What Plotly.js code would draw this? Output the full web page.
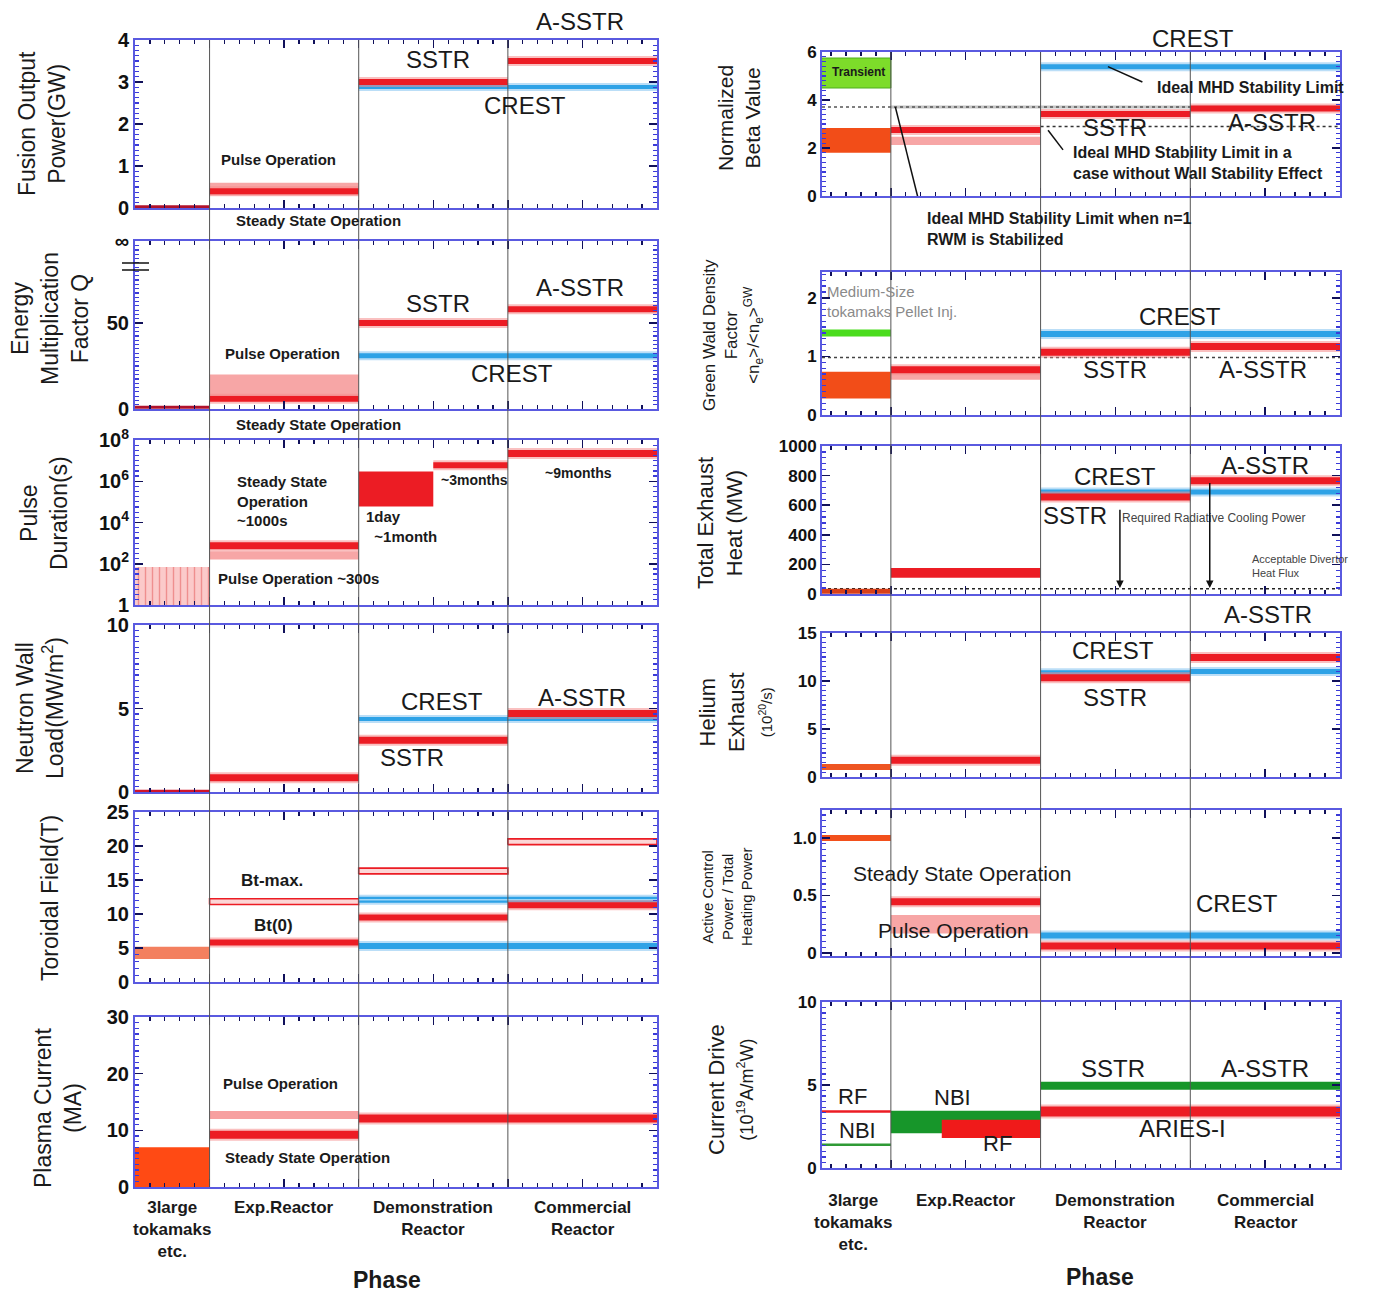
<!DOCTYPE html>
<html><head><meta charset="utf-8">
<script src="https://cdn.plot.ly/plotly-3.0.1.min.js"></script>
<style>html,body{margin:0;padding:0;background:#fff}</style>
</head><body><div id="chart" style="width:1374px;height:1292px"></div>
<script>
// ================= DATA =================
const PHASES = ['3large<br>tokamaks<br>etc.', 'Exp.Reactor', 'Demonstration<br>Reactor', 'Commercial<br>Reactor'];
const PHASE_EDGES = [0.5, 1, 2, 3, 4];   // phase boundaries on the phase axis

// Fusion output power (GW)   [number = level, [lo,hi] = range]
const fusionExisting = [0.03, null, null, null];
const fusionSSTR     = [null, 0.4, 3.0, 3.5];
const fusionPulse    = [null, [0.3, 0.6], null, null];
const fusionCREST    = [null, null, 2.88, 2.88];

// Energy multiplication factor Q
const qExisting = [1, null, null, null];
const qSSTR     = [null, 6, 50, 58];
const qPulse    = [null, [8, 20], null, null];
const qCREST    = [null, null, 31, 31];
const qInfinity = 97.7;

// Pulse duration (s)
const durExisting = [[1, 70], null, null, null];
const durSSTR     = [null, 750, null, 2.2e7];
const durPulse    = [null, [160, 400], null, null];
const durDemoDay  = [6e4, 3e6];   // 1 day ~ 1 month (first half of Demo phase)
const durDemo3mo  = 6e6;          // ~3 months (second half of Demo phase)

// Neutron wall load (MW/m2)
const nwlExisting = [0.05, null, null, null];
const nwlSSTR     = [null, 0.85, 3.1, 4.7];
const nwlCREST    = [null, null, 4.37, 4.37];

// Toroidal field (T)
const btExisting  = [[3.4, 5.2], null, null, null];
const btMax       = [null, [11.4, 12.25], [15.9, 16.75], [20.2, 21.05]];
const bt0         = [null, 5.8, 9.5, 11.3];
const btCRESTmax  = [null, null, 12.1, 12.1];
const btCREST0    = [null, null, 5.3, 5.3];

// Plasma current (MA)
const ipExisting = [[0, 7], null, null, null];
const ipPulse    = [null, 12.7, null, null];
const ipSSTR     = [null, 9.2, 12.1, 12.1];

// Normalized beta
const betaTransient = [[4.5, 5.75], null, null, null];
const betaExisting  = [[1.8, 2.83], null, null, null];
const betaSSTR      = [null, 2.75, 3.42, 3.65];
const betaPulse     = [null, [2.13, 2.47], null, null];
const betaCREST     = [null, null, 5.39, 5.39];
const betaRWMLimit  = [3.71, 3.71, 3.71, 3.71];
const betaNoWall    = [null, null, 2.9, 2.9];

// Greenwald density factor
const gwPellet   = [1.4, null, null, null];
const gwExisting = [[0.28, 0.74], null, null, null];
const gwSSTR     = [null, 0.77, 1.07, 1.17];
const gwPulse    = [null, [0.6, 0.72], null, null];
const gwCREST    = [null, null, 1.38, 1.38];
const gwLimit    = [0.98, 0.98, 0.98, 0.98];

// Total exhaust heat (MW)
const heatExisting = [18, null, null, null];
const heatSSTR     = [null, [110, 175], 655, 765];
const heatCREST    = [null, null, 690, 690];
const heatDivertor = [35, 35, 35, 35];
const heatRadiative = [580, 760];     // arrows: from these levels down to divertor level

// Helium exhaust (10^20/s)
const heExisting = [1.05, null, null, null];
const heSSTR     = [null, 1.75, 10.35, 12.45];
const heCREST    = [null, null, 10.85, 11.0];

// Active control power / total heating power
const acExisting = [1.0, null, null, null];
const acSSTR     = [null, 0.445, 0.06, 0.06];
const acPulse    = [null, [0.17, 0.33], null, null];
const acCREST    = [null, null, 0.152, 0.152];

// Current drive efficiency (10^19 A/m^2W)
const cdRF3large  = [3.4, null, null, null];
const cdNBI3large = [1.4, null, null, null];
const cdNBIExp    = [null, [2.1, 3.45], null, null];
const cdRFExp     = [1.8, 2.9];       // RF range in Exp. phase (latter part)
const cdSSTR      = [null, null, 4.95, 4.95];
const cdARIES     = [null, null, 3.4, 3.4];

// ================= STYLE / LAYOUT =================
const W = 1374, H = 1292;
const fx = p => p / W, fy = p => 1 - p / H;
const FONT = 'Liberation Sans, Arial, Helvetica, sans-serif';
const RED = '#ec1c24', PINK = '#f7a6a6', BLUE = '#2ea2e6', ORANGE = '#ff4a14',
      SALMON = '#f3805f', DARKRED = '#b0122c', GREEN = '#4bdc1e', DKGREEN = '#17962a',
      FRAME = '#5a5ae0', TICKDARK = '#10105a';

const LEFT_X = [135, 657], RIGHT_X = [822, 1340];
const LEFT_Y = [[40, 208], [241, 409], [440, 605], [625, 792], [812, 982], [1017, 1187]];
const RIGHT_Y = [[52, 196], [272, 415], [446, 594], [633, 777], [810, 956], [1002, 1168]];

const yCfg = {
  1: {range: [0, 4], vals: [0, 1, 2, 3, 4], minor: 0.125},
  2: {range: [0, qInfinity], vals: [0, 50, qInfinity], text: ['0', '50', '∞'], minor: 2.5},
  3: {type: 'log', range: [0, 8], vals: [1, 1e2, 1e4, 1e6, 1e8],
      text: ['1', '10<sup>2</sup>', '10<sup>4</sup>', '10<sup>6</sup>', '10<sup>8</sup>']},
  4: {range: [0, 10], vals: [0, 5, 10], minor: 1 / 3},
  5: {range: [0, 25], vals: [0, 5, 10, 15, 20, 25], minor: 1},
  6: {range: [0, 30], vals: [0, 10, 20, 30], minor: 1},
  7: {range: [0, 6], vals: [0, 2, 4, 6], minor: 0.2},
  8: {range: [0, 2.44], vals: [0, 1, 2], minor: 0.1},
  9: {range: [0, 1000], vals: [0, 200, 400, 600, 800, 1000], minor: 40},
  10: {range: [0, 15], vals: [0, 5, 10, 15], minor: 0.5},
  11: {range: [-0.026, 1.243], vals: [0, 0.5, 1.0], text: ['0', '0.5', '1.0'], minor: 0.05},
  12: {range: [0, 10], vals: [0, 5, 10], minor: 1 / 3},
};

const sfx = i => (i === 1 ? '' : String(i));
const layout = {
  width: W, height: H, margin: {l: 0, r: 0, t: 0, b: 0},
  paper_bgcolor: '#fff', plot_bgcolor: 'rgba(0,0,0,0)', showlegend: false,
  font: {family: FONT, color: '#111'}, shapes: [], annotations: []
};

for (let i = 1; i <= 12; i++) {
  const left = i <= 6;
  const xp = left ? LEFT_X : RIGHT_X;
  const yp = left ? LEFT_Y[i - 1] : RIGHT_Y[i - 7];
  layout['xaxis' + sfx(i)] = {
    domain: [fx(xp[0]), fx(xp[1])], anchor: 'y' + sfx(i),
    range: left ? [0.5, 4] : [0.54, 4],
    showline: true, linecolor: FRAME, linewidth: 2, mirror: 'allticks',
    ticks: 'inside', ticklen: 8, tickwidth: 1.5, tickcolor: TICKDARK,
    tickmode: 'linear', tick0: 0.5, dtick: 0.5, showticklabels: false,
    showgrid: false, zeroline: false, fixedrange: true,
    minor: {ticks: 'inside', ticklen: 4, tickwidth: 1.2, tickcolor: TICKDARK, tickmode: 'linear', tick0: 0.5, dtick: 0.1, showgrid: false}
  };
  const c = yCfg[i];
  const ya = {
    domain: [fy(yp[1]), fy(yp[0])], anchor: 'x' + sfx(i),
    type: c.type || 'linear', range: c.range,
    showline: true, linecolor: FRAME, linewidth: 2, mirror: 'allticks',
    ticks: 'inside', ticklen: 8, tickwidth: 1.5, tickcolor: TICKDARK,
    tickmode: 'array', tickvals: c.vals, ticktext: c.text || c.vals.map(String),
    tickfont: {family: FONT, size: left ? 20 : 17, color: '#111', weight: 'bold'},
    showgrid: false, zeroline: false, fixedrange: true,
    minor: {ticks: 'inside', ticklen: 4, tickwidth: 1.2, tickcolor: '#3a3ad8', showgrid: false}
  };
  if (c.type === 'log') {
    const mv = [];
    for (let k = 0; k <= 32; k++) mv.push(Math.pow(10, k / 4));
    ya.minor.tickmode = 'array'; ya.minor.tickvals = mv;
  } else {
    ya.minor.tickmode = 'linear'; ya.minor.tick0 = 0; ya.minor.dtick = c.minor;
  }
  layout['yaxis' + sfx(i)] = ya;
}

// ================= TRACES =================
const traces = [];
const E = PHASE_EDGES;
function segsOf(vals, wantRange) {
  const out = [];
  vals.forEach((v, i) => {
    if (v === null || v === undefined) return;
    if (Array.isArray(v) === wantRange) out.push([E[i], E[i + 1], v]);
  });
  return out;
}
function lineTrace(segs, ax, color, width, dash) {
  const x = [], y = [];
  let last = null;
  segs.forEach(s => {
    if (last && last[1] === s[0] && last[2] === s[2]) { x[x.length - 2] = s[1]; last = [last[0], s[1], s[2]]; return; }
    x.push(s[0], s[1], null); y.push(s[2], s[2], null); last = s;
  });
  traces.push({type: 'scatter', mode: 'lines', x, y, xaxis: 'x' + sfx(ax), yaxis: 'y' + sfx(ax),
    line: {color, width, dash: dash || 'solid'}, hoverinfo: 'skip', showlegend: false});
}
function bandTrace(segs, ax, fill, lineColor, lineWidth, pattern) {
  const x = [], y = [];
  segs.forEach(s => {
    const [lo, hi] = s[2];
    x.push(s[0], s[1], s[1], s[0], s[0], null);
    y.push(lo, lo, hi, hi, lo, null);
  });
  const t = {type: 'scatter', mode: 'lines', x, y, xaxis: 'x' + sfx(ax), yaxis: 'y' + sfx(ax),
    fill: 'toself', fillcolor: fill, line: {color: lineColor || 'rgba(0,0,0,0)', width: lineWidth || 0},
    hoverinfo: 'skip', showlegend: false};
  if (pattern) t.fillpattern = pattern;
  traces.push(t);
}
const HALO_R = 'rgba(246,140,140,0.55)', HALO_B = 'rgba(150,205,242,0.65)';
function series(vals, ax, color, width, halo) {
  const b = segsOf(vals, true);
  if (b.length) bandTrace(b, ax, color);
  const l = segsOf(vals, false);
  if (l.length) {
    if (halo) lineTrace(l, ax, halo, width + 4);
    lineTrace(l, ax, color, width);
  }
}

// Panel 1: fusion power
series(fusionPulse, 1, PINK, 0);
series(fusionCREST, 1, BLUE, 4, HALO_B);
series(fusionExisting, 1, DARKRED, 3);
series(fusionSSTR, 1, RED, 6, HALO_R);
// Panel 2: Q
series(qPulse, 2, PINK, 0);
series(qCREST, 2, BLUE, 5, HALO_B);
series(qExisting, 2, DARKRED, 3);
series(qSSTR, 2, RED, 6, HALO_R);
// Panel 3: pulse duration
bandTrace(segsOf(durExisting, true), 3, '#fbc6c6', null, 0,
  {shape: '|', fgcolor: '#ef8f8f', bgcolor: '#fbcaca', size: 7, solidity: 0.2});
series(durPulse, 3, PINK, 0);
series(durSSTR, 3, RED, 7, HALO_R);
{
  const mid = (E[2] + E[3]) / 2;
  bandTrace([[E[2], mid, durDemoDay]], 3, RED);
  lineTrace([[mid, E[3], durDemo3mo]], 3, HALO_R, 10);
  lineTrace([[mid, E[3], durDemo3mo]], 3, RED, 6);
}
// Panel 4: neutron wall load
series(nwlCREST, 4, BLUE, 4, HALO_B);
series(nwlExisting, 4, '#d0142a', 3);
series(nwlSSTR, 4, RED, 7, HALO_R);
// Panel 5: toroidal field
series(btExisting, 5, SALMON, 0);
bandTrace(segsOf(btMax, true), 5, '#fcd6d6', RED, 1.6);
series(btCRESTmax, 5, BLUE, 6, HALO_B);
lineTrace(segsOf(btCRESTmax, false), 5, '#9fd6f6', 1.5);
series(btCREST0, 5, BLUE, 6, HALO_B);
series(bt0, 5, RED, 6, HALO_R);
// Panel 6: plasma current
series(ipExisting, 6, ORANGE, 0);
series(ipPulse, 6, '#f7a0a0', 8);
series(ipSSTR, 6, RED, 8, HALO_R);

// Panel 7: beta
lineTrace(segsOf(betaRWMLimit, false).slice(1), 7, '#c4c4c4', 3);
lineTrace(segsOf(betaRWMLimit, false), 7, '#555', 1.5, 'dot');
lineTrace(segsOf(betaNoWall, false), 7, '#333', 1.5, 'dot');
bandTrace(segsOf(betaTransient, true), 7, '#7ddc2a', '#4fae1c', 1);
series(betaExisting, 7, '#f24d18', 0);
series(betaPulse, 7, PINK, 0);
series(betaCREST, 7, BLUE, 5, HALO_B);
series(betaSSTR, 7, RED, 6, HALO_R);
// Panel 8: Greenwald
lineTrace(segsOf(gwLimit, false), 8, '#444', 1.5, 'dot');
series(gwExisting, 8, '#f24d18', 0);
series(gwPellet, 8, GREEN, 7);
series(gwPulse, 8, PINK, 0);
series(gwCREST, 8, BLUE, 6, HALO_B);
series(gwSSTR, 8, RED, 7, HALO_R);
// Panel 9: exhaust heat
lineTrace(segsOf(heatDivertor, false), 9, '#222', 1.5, 'dot');
series(heatExisting, 9, '#d8401a', 5);
series(heatCREST, 9, BLUE, 5, HALO_B);
series(heatSSTR, 9, RED, 7, HALO_R);
// Panel 10: helium exhaust
series(heExisting, 10, '#ee5522', 6);
series(heCREST, 10, BLUE, 5, HALO_B);
series(heSSTR, 10, RED, 7, HALO_R);
// Panel 11: active control
series(acExisting, 11, '#f2501c', 6);
series(acPulse, 11, PINK, 0);
series(acCREST, 11, BLUE, 6, HALO_B);
series(acSSTR, 11, RED, 7, HALO_R);
// Panel 12: current drive
series(cdRF3large, 12, RED, 2.5);
series(cdNBI3large, 12, '#2f9a35', 2.5);
series(cdNBIExp, 12, DKGREEN, 0);
{
  const start = E[1] + (E[2] - E[1]) * 0.34;
  bandTrace([[start, E[2], cdRFExp]], 12, '#f01a1a');
}
series(cdSSTR, 12, DKGREEN, 8);
series(cdARIES, 12, RED, 10, HALO_R);

// ================= DECORATION =================
// phase dividers spanning each column
[[ 'x', LEFT_Y[0][0], LEFT_Y[5][1] ], [ 'x7', RIGHT_Y[0][0], RIGHT_Y[5][1] ]].forEach(([xr, t, b]) => {
  E.slice(1, 4).forEach(xv => layout.shapes.push({type: 'line', xref: xr, yref: 'paper',
    x0: xv, x1: xv, y0: fy(b), y1: fy(t), line: {color: '#555', width: 1}, layer: 'above'}));
});
// axis break mark on Q axis
[263, 270].forEach(yy => layout.shapes.push({type: 'line', xref: 'paper', yref: 'paper',
  x0: fx(122), x1: fx(149), y0: fy(yy), y1: fy(yy), line: {color: '#111', width: 1.5}}));

// pointer lines in the beta panel (plain lines, no heads)
function pointerLine(ax, xt, yt, xs, ys) {
  layout.shapes.push({type: 'line', xref: 'x' + sfx(ax), yref: 'y' + sfx(ax),
    x0: xs, y0: ys, x1: xt, y1: yt, line: {color: '#111', width: 1.5}, layer: 'above'});
}
pointerLine(7, 2.45, betaCREST[2], 2.68, 4.75);
pointerLine(7, 2.05, 2.74, 2.15, 1.92);
pointerLine(7, 1.03, betaRWMLimit[0], 1.21, -0.8);

function ann(text, x, y, size, o) {
  o = o || {};
  return {text, xref: 'paper', yref: 'paper', x: fx(x), y: fy(y), xanchor: o.xa || 'center', yanchor: 'middle',
    align: o.align || 'center', showarrow: false, textangle: o.angle || 0,
    font: {family: FONT, size, color: o.color || '#1a1a1a', weight: o.bold ? 'bold' : 'normal'}};
}
const A = layout.annotations;
// y-axis titles (left)
A.push(ann('Fusion Output<br>Power(GW)', 42, 124, 23, {angle: -90}));
A.push(ann('Energy<br>Multiplication<br>Factor Q', 50, 318, 23, {angle: -90}));
A.push(ann('Pulse<br>Duration(s)', 44, 513, 23, {angle: -90}));
A.push(ann('Neutron Wall<br>Load(MW/m<sup>2</sup>)', 40, 708, 23, {angle: -90}));
A.push(ann('Toroidal Field(T)', 50, 898, 23, {angle: -90}));
A.push(ann('Plasma Current<br>(MA)', 58, 1108, 23, {angle: -90}));
// y-axis titles (right)
A.push(ann('Normalized<br>Beta Value', 739, 118, 21, {angle: -90}));
A.push(ann('Green Wald Density<br>Factor<br>&lt;n<sub>e</sub>&gt;/&lt;n<sub>e</sub>&gt;<sup>GW</sup>', 733, 335, 17, {angle: -90}));
A.push(ann('Total Exhaust<br>Heat (MW)', 720, 523, 22, {angle: -90}));
A.push(ann('Helium<br>Exhaust<br><span style="font-size:15px">(10<sup>20</sup>/s)</span>', 735, 712, 22, {angle: -90}));
A.push(ann('Active Control<br>Power / Total<br>Heating Power', 727, 897, 15, {angle: -90}));
A.push(ann('Current Drive<br><span style="font-size:18px">(10<sup>19</sup>A/m<sup>2</sup>W)</span>', 730, 1090, 22, {angle: -90}));

// phase labels
PHASES.forEach((p, i) => {
  const cx = (E[i] + E[i + 1]) / 2;
  A.push({text: p, xref: 'x6', yref: 'paper', x: cx, y: fy(1196), xanchor: 'center', yanchor: 'top',
    showarrow: false, font: {family: FONT, size: 17, color: '#1a1a1a', weight: 'bold'}});
  A.push({text: p, xref: 'x12', yref: 'paper', x: cx, y: fy(1189), xanchor: 'center', yanchor: 'top',
    showarrow: false, font: {family: FONT, size: 17, color: '#1a1a1a', weight: 'bold'}});
});
A.push(ann('Phase', 387, 1280, 23, {bold: true}));
A.push(ann('Phase', 1100, 1277, 23, {bold: true}));

// left in-plot labels
const L = 24;
A.push(ann('A-SSTR', 580, 22, L)); A.push(ann('SSTR', 438, 60, L)); A.push(ann('CREST', 525, 105, L));
A.push(ann('Pulse Operation', 278, 160, 15, {bold: true}));
A.push(ann('Steady State Operation', 318, 221, 15, {bold: true}));
A.push(ann('SSTR', 438, 303, L)); A.push(ann('A-SSTR', 580, 287, L)); A.push(ann('CREST', 512, 373, L));
A.push(ann('Pulse Operation', 282, 353, 15, {bold: true}));
A.push(ann('Steady State Operation', 318, 424, 15, {bold: true}));
A.push(ann('Steady State<br>Operation<br>~1000s', 235, 501, 15, {bold: true, xa: 'left', align: 'left'}));
A.push(ann('Pulse Operation ~300s', 298, 578, 15, {bold: true}));
A.push(ann('1day<br>&nbsp;&nbsp;~1month', 364, 526, 15, {bold: true, xa: 'left', align: 'left'}));
A.push(ann('~3months', 474, 480, 14, {bold: true}));
A.push(ann('~9months', 578, 473, 14, {bold: true}));
A.push(ann('CREST', 442, 702, L)); A.push(ann('A-SSTR', 582, 697, L)); A.push(ann('SSTR', 412, 757, L));
A.push(ann('Bt-max.', 272, 880, 17, {bold: true}));
A.push(ann('Bt(0)', 273, 926, 17, {bold: true}));
A.push(ann('Pulse Operation', 280, 1083, 15, {bold: true}));
A.push(ann('Steady State Operation', 307, 1157, 15, {bold: true}));

// right in-plot labels
A.push(ann('CREST', 1193, 38, L));
A.push(ann('Transient', 858, 72, 12, {bold: true}));
A.push(ann('Ideal MHD Stability Limit', 1250, 87, 16, {bold: true}));
A.push(ann('SSTR', 1115, 127, L)); A.push(ann('A-SSTR', 1272, 123, L));
A.push(ann('Ideal MHD Stability Limit in a<br>case without Wall Stability Effect', 1071, 163, 16, {bold: true, xa: 'left', align: 'left'}));
A.push(ann('Ideal MHD Stability Limit when n=1<br>RWM is Stabilized', 925, 229, 16, {bold: true, xa: 'left', align: 'left'}));
A.push(ann('Medium-Size<br>tokamaks Pellet Inj.', 825, 301, 15, {xa: 'left', align: 'left', color: '#8a8a8a'}));
A.push(ann('CREST', 1180, 317, L)); A.push(ann('SSTR', 1115, 370, L)); A.push(ann('A-SSTR', 1263, 370, L));
A.push(ann('CREST', 1115, 476, L)); A.push(ann('A-SSTR', 1265, 466, L)); A.push(ann('SSTR', 1075, 516, L));
A.push(ann('Required Radiative Cooling Power', 1120, 518, 12, {xa: 'left', color: '#444'}));
A.push(ann('Acceptable Divertor<br>Heat Flux', 1250, 566, 11, {xa: 'left', align: 'left', color: '#444'}));
A.push(ann('A-SSTR', 1268, 615, L)); A.push(ann('CREST', 1113, 650, L)); A.push(ann('SSTR', 1115, 697, L));
A.push(ann('Steady State Operation', 962, 873, 21));
A.push(ann('Pulse Operation', 953, 930, 21));
A.push(ann('CREST', 1237, 903, L));
A.push(ann('RF', 852, 1096, 22)); A.push(ann('NBI', 857, 1130, 22));
A.push(ann('NBI', 952, 1097, 22)); A.push(ann('RF', 998, 1143, 22));
A.push(ann('SSTR', 1113, 1068, L)); A.push(ann('A-SSTR', 1265, 1068, L)); A.push(ann('ARIES-I', 1182, 1128, L));

// arrows (exhaust heat panel): radiative cooling power down to divertor level
function arrow(ax, xt, yt, xs, ys) {
  A.push({text: '', xref: 'x' + sfx(ax), yref: 'y' + sfx(ax), axref: 'x' + sfx(ax), ayref: 'y' + sfx(ax),
    x: xt, y: yt, ax: xs, ay: ys, showarrow: true, arrowhead: 2, arrowsize: 1, arrowwidth: 1.5,
    arrowcolor: '#111', standoff: 0, startstandoff: 0});
}
arrow(9, 2.53, heatDivertor[2] + 5, 2.53, heatRadiative[0]);
arrow(9, 3.13, heatDivertor[3] + 5, 3.13, heatRadiative[1]);

Plotly.newPlot('chart', traces, layout, {staticPlot: true, displayModeBar: false});
</script></body></html>
